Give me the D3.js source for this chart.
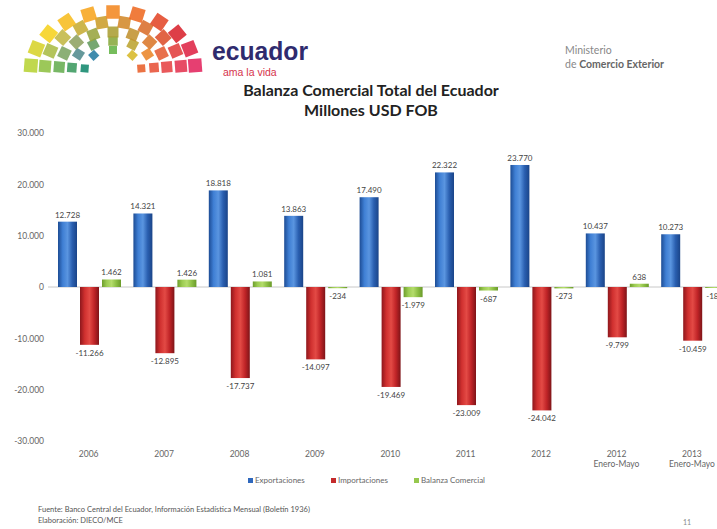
<!DOCTYPE html>
<html lang="es">
<head>
<meta charset="utf-8">
<title>Balanza Comercial Total del Ecuador</title>
<script src="https://cdn.jsdelivr.net/npm/d3@7/dist/d3.min.js"></script>
<style>
  html, body { margin: 0; padding: 0; background: #fff; overflow: hidden; }
  svg { display: block; }
</style>
</head>
<body>
<svg id="chart" width="717" height="529"></svg>
<script>
// Trade balance of Ecuador, millions of USD FOB
const categories = ["2006", "2007", "2008", "2009", "2010", "2011", "2012", "2012|Enero-Mayo", "2013|Enero-Mayo"];
const exportaciones = [12728, 14321, 18818, 13863, 17490, 22322, 23770, 10437, 10273];
const importaciones = [-11266, -12895, -17737, -14097, -19469, -23009, -24042, -9799, -10459];
const balanza = [1462, 1426, 1081, -234, -1979, -687, -273, 638, -186];
const seriesNames = ["Exportaciones", "Importaciones", "Balanza Comercial"];
const yTicks = [-30000, -20000, -10000, 0, 10000, 20000, 30000];

const svg = d3.select("#chart");
const defs = svg.append("defs");

const locale = d3.formatLocale({ decimal: ",", thousands: ".", grouping: [3], currency: ["$", ""], minus: "-" });
const fmt = locale.format(",d");

// ---------- header: logo fan of coloured squares ----------
const fan = svg.append("g").attr("class", "logo");
const innerPal = ["#12876c", "#1f6fbe", "#3aa34c", "#8cc43e", "#f0b422", "#e8602a"];
const outerPal = ["#b7d334", "#f6d21f", "#f7a51f", "#ee6a22", "#d8232e", "#e3245d"];
const innerScale = d3.scaleLinear().domain(d3.range(6).map(i => i / 5)).range(innerPal);
const outerScale = d3.scaleLinear().domain(d3.range(6).map(i => i / 5)).range(outerPal);
const fanCx = 113, fanCy = 70, fanStretch = 1.42;
const rings = [
  { r: 20, n: 5, s: 8 },
  { r: 29, n: 7, s: 9.5 },
  { r: 38, n: 9, s: 11 },
  { r: 48, n: 10, s: 12 },
  { r: 58, n: 11, s: 13.5 }
];
rings.forEach((ring, k) => {
  for (let i = 0; i < ring.n; i++) {
    const t = i / (ring.n - 1);
    const ang = Math.PI * (1 - t) * 0.95 + Math.PI * 0.025;
    const px = fanCx + Math.cos(ang) * ring.r * fanStretch;
    const py = fanCy - Math.sin(ang) * ring.r;
    const c = d3.interpolateRgb(innerScale(t), outerScale(t))(k / (rings.length - 1));
    fan.append("rect")
      .attr("x", -ring.s / 2).attr("y", -ring.s / 2)
      .attr("width", ring.s).attr("height", ring.s)
      .attr("fill", c).attr("opacity", 0.88)
      .attr("transform", `translate(${px},${py}) rotate(${-ang * 180 / Math.PI + 90})`);
  }
});

svg.append("text").attr("x", 212).attr("y", 60)
  .attr("font-family", "Liberation Sans, Arial, sans-serif").attr("font-weight", "bold")
  .attr("font-size", 26).attr("fill", "#2f2b6e")
  .attr("textLength", 96).attr("lengthAdjust", "spacingAndGlyphs")
  .text("ecuador");
svg.append("text").attr("x", 223).attr("y", 76)
  .attr("font-family", "Liberation Sans, Arial, sans-serif")
  .attr("font-size", 10.5).attr("fill", "#d6334c")
  .text("ama la vida");

svg.append("text").attr("x", 565).attr("y", 54)
  .attr("font-family", "Lato, sans-serif").attr("font-size", 10.5).attr("fill", "#888")
  .text("Ministerio");
const minis = svg.append("text").attr("x", 565).attr("y", 68)
  .attr("font-family", "Lato, sans-serif").attr("font-size", 10.5).attr("fill", "#888");
minis.append("tspan").text("de ");
minis.append("tspan").attr("font-weight", "bold").attr("fill", "#666").text("Comercio Exterior");

// ---------- title ----------
svg.append("text").attr("x", 371).attr("y", 96).attr("text-anchor", "middle")
  .attr("font-family", "Lato, sans-serif").attr("font-weight", "bold").attr("font-size", 16).attr("fill", "#222")
  .text("Balanza Comercial Total del Ecuador");
svg.append("text").attr("x", 371).attr("y", 116).attr("text-anchor", "middle")
  .attr("font-family", "Lato, sans-serif").attr("font-weight", "bold").attr("font-size", 16).attr("fill", "#222")
  .text("Millones USD FOB");

// ---------- scales ----------
const y = d3.scaleLinear().domain([-30000, 30000]).range([441, 133]);
const step = 75.4;
const x0 = d3.scaleBand().domain(categories).range([51, 51 + step * categories.length]).padding(0);
const x1 = d3.scaleBand().domain(seriesNames).range([7, 70]).paddingInner(3 / 22).paddingOuter(0);

// bar gradients for a rounded, cylinder-like look
const grads = {
  "Exportaciones": ["#1d4c94", "#3f7fd4", "#5a95e0", "#2a5fb0", "#1a4488"],
  "Importaciones": ["#8e171c", "#d0302f", "#e34a45", "#c02427", "#7e1418"],
  "Balanza Comercial": ["#6e9e2c", "#9ccc52", "#b4dc6c", "#8cbf44", "#6a9a2a"]
};
const gradId = {};
Object.entries(grads).forEach(([name, stops], i) => {
  const id = "g" + i;
  gradId[name] = id;
  const g = defs.append("linearGradient").attr("id", id).attr("x1", "0").attr("x2", "1").attr("y1", "0").attr("y2", "0");
  stops.forEach((c, j) => g.append("stop").attr("offset", j / (stops.length - 1)).attr("stop-color", c));
});
const legendColor = { "Exportaciones": "#2f68bd", "Importaciones": "#c42a2c", "Balanza Comercial": "#96c84e" };

// ---------- axis ----------
const yAxis = svg.append("g").attr("transform", "translate(47,0)")
  .call(d3.axisLeft(y).tickValues(yTicks).tickSize(0).tickPadding(3).tickFormat(fmt));
yAxis.select(".domain").remove();
yAxis.selectAll("text").attr("font-family", "Lato, sans-serif").attr("font-size", 8.5).attr("fill", "#666");

svg.append("line").attr("x1", 48).attr("x2", 717).attr("y1", y(0)).attr("y2", y(0))
  .attr("stroke", "#c8c8c8").attr("stroke-width", 1);

// ---------- bars ----------
const rows = categories.map((c, i) => ({
  cat: c,
  vals: [
    { s: "Exportaciones", v: exportaciones[i] },
    { s: "Importaciones", v: importaciones[i] },
    { s: "Balanza Comercial", v: balanza[i] }
  ]
}));

const groups = svg.append("g").selectAll("g").data(rows).join("g")
  .attr("transform", d => `translate(${x0(d.cat)},0)`);

groups.selectAll("rect").data(d => d.vals).join("rect")
  .attr("x", d => x1(d.s))
  .attr("width", x1.bandwidth())
  .attr("y", d => y(Math.max(0, d.v)))
  .attr("height", d => Math.abs(y(d.v) - y(0)))
  .attr("fill", d => `url(#${gradId[d.s]})`);

groups.selectAll("text.val").data(d => d.vals).join("text")
  .attr("class", "val")
  .attr("x", d => x1(d.s) + x1.bandwidth() / 2)
  .attr("y", d => d.v >= 0 ? y(d.v) - 4 : y(d.v) + 11)
  .attr("text-anchor", "middle")
  .attr("font-family", "Lato, sans-serif").attr("font-size", 8).attr("fill", "#444")
  .text(d => fmt(d.v));

// ---------- category labels ----------
const catG = svg.append("g");
categories.forEach(c => {
  const parts = c.split("|");
  const cx = x0(c) + x0.bandwidth() / 2;
  const t = catG.append("text")
    .attr("x", cx).attr("y", 457)
    .attr("text-anchor", "middle")
    .attr("font-family", "Lato, sans-serif").attr("font-size", 8.5).attr("fill", "#666");
  parts.forEach((p, j) => t.append("tspan").attr("x", cx).attr("dy", j ? 10 : 0).text(p));
});

// ---------- legend ----------
const legendX = [248, 331, 414];
const legend = svg.append("g").selectAll("g").data(seriesNames).join("g")
  .attr("transform", (d, i) => `translate(${legendX[i]},482)`);
legend.append("rect").attr("x", 0).attr("y", -4).attr("width", 5).attr("height", 5)
  .attr("fill", d => legendColor[d]);
legend.append("text").attr("x", 7).attr("y", 1)
  .attr("font-family", "Lato, sans-serif").attr("font-size", 8).attr("fill", "#666")
  .text(d => d);

// ---------- footer ----------
svg.append("text").attr("x", 38).attr("y", 512)
  .attr("font-family", "Lato, sans-serif").attr("font-size", 7.5).attr("fill", "#555")
  .text("Fuente: Banco Central del Ecuador, Información Estadística Mensual (Boletín 1936)");
svg.append("text").attr("x", 38).attr("y", 523)
  .attr("font-family", "Lato, sans-serif").attr("font-size", 7.5).attr("fill", "#555")
  .text("Elaboración: DIECO/MCE");
svg.append("text").attr("x", 683).attr("y", 525)
  .attr("font-family", "Lato, sans-serif").attr("font-size", 7).attr("fill", "#888")
  .text("11");
</script>
</body>
</html>
